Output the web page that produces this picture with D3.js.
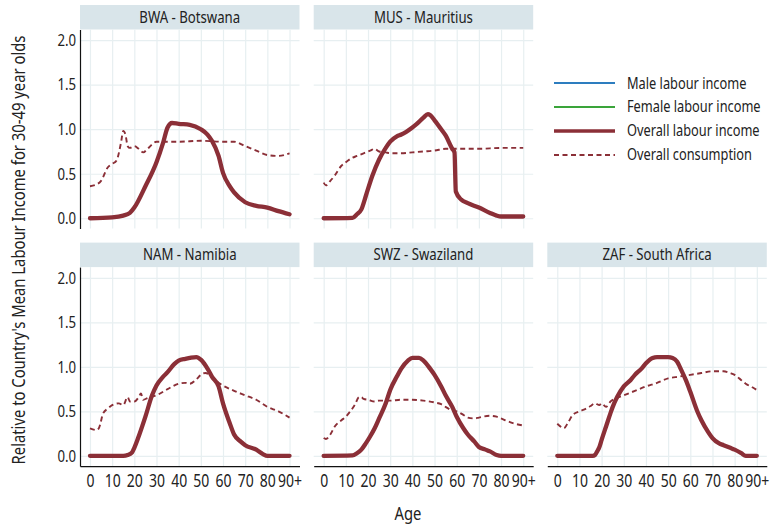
<!DOCTYPE html>
<html>
  <head>
    <meta http-equiv="Content-Type" content="text/html; charset=utf-8">
    <title>Labour income and consumption by age</title>
    <script src="https://cdnjs.cloudflare.com/ajax/libs/d3/7.8.5/d3.min.js"></script>
    <style>
      body { margin: 0; background: #ffffff; }
      text { font-family: "Noto Sans", "Open Sans", sans-serif; fill: #222222; }
    </style>
  </head>
  <body>
    <div id="chart_area"></div>
<script>

// ---- data: [age, value relative to mean 30-49 labour income] ----
var countries = ["BWA - Botswana", "MUS - Mauritius", "NAM - Namibia", "SWZ - Swaziland", "ZAF - South Africa"];

var bwaIncome = [[0,0],[10,0.01],[15,0.03],[18,0.06],[20,0.12],[25,0.36],[30,0.63],[33,0.85],[35,1.02],[37,1.07],[40,1.06],
  [45,1.05],[50,1.0],[53,0.94],[55,0.87],[58,0.70],[60,0.51],[63,0.36],[65,0.29],[70,0.18],[75,0.14],[80,0.12],[85,0.08],[90,0.045]];
var bwaConsumption = [[0,0.36],[3,0.38],[5,0.42],[8,0.57],[10,0.61],[12,0.65],[14,0.85],[15,0.98],[16,0.94],[17,0.81],[18,0.79],
  [20,0.81],[22,0.78],[24,0.74],[26,0.78],[28,0.83],[30,0.86],[40,0.86],[50,0.87],[60,0.86],[65,0.86],[70,0.81],[75,0.76],
  [80,0.71],[85,0.70],[90,0.73]];

var musIncome = [[0,0],[13,0.005],[15,0.045],[17,0.10],[19,0.25],[20,0.33],[22,0.48],[25,0.66],[28,0.79],[30,0.86],[33,0.92],
  [35,0.94],[40,1.02],[42,1.06],[45,1.13],[47,1.17],[48,1.16],[50,1.10],[53,1.0],[55,0.93],[58,0.78],[59,0.74],[59.6,0.30],
  [62,0.21],[65,0.17],[70,0.12],[75,0.06],[78,0.03],[80,0.02],[90,0.02]];
var musConsumption = [[0,0.40],[1,0.37],[3,0.42],[5,0.48],[8,0.59],[10,0.63],[13,0.68],[15,0.70],[18,0.73],[21,0.76],[23,0.78],
  [25,0.75],[28,0.74],[30,0.73],[35,0.73],[40,0.74],[45,0.75],[50,0.76],[55,0.78],[60,0.78],[70,0.78],[80,0.79],[90,0.79]];

var namIncome = [[0,0],[15,0],[17,0.01],[19,0.04],[20,0.09],[22,0.22],[25,0.44],[28,0.68],[30,0.79],[33,0.89],[35,0.94],
  [38,1.03],[40,1.07],[43,1.09],[45,1.10],[48,1.11],[50,1.08],[53,0.98],[55,0.89],[58,0.78],[60,0.59],[63,0.37],[65,0.24],
  [68,0.16],[70,0.12],[75,0.07],[78,0.02],[80,0],[90,0]];
var namConsumption = [[0,0.31],[3,0.29],[4,0.31],[6,0.48],[8,0.53],[10,0.57],[13,0.59],[15,0.57],[17,0.66],[18,0.61],[20,0.61],
  [22,0.66],[23,0.70],[24,0.63],[26,0.65],[30,0.68],[35,0.75],[40,0.81],[43,0.82],[45,0.81],[48,0.86],[50,0.91],[52,0.93],
  [55,0.89],[58,0.82],[60,0.79],[65,0.73],[70,0.68],[75,0.63],[80,0.55],[85,0.50],[90,0.43]];

var swzIncome = [[0,0],[13,0.005],[15,0.03],[17,0.07],[19,0.14],[21,0.22],[23,0.31],[25,0.42],[28,0.59],[30,0.74],[33,0.89],
  [35,0.98],[38,1.07],[40,1.10],[43,1.10],[45,1.07],[48,0.98],[50,0.91],[53,0.78],[55,0.68],[58,0.55],[60,0.44],[63,0.31],
  [65,0.24],[68,0.16],[70,0.10],[73,0.07],[75,0.05],[78,0.01],[80,0],[90,0]];
var swzConsumption = [[0,0.20],[1,0.19],[3,0.24],[5,0.33],[8,0.40],[10,0.44],[12,0.50],[14,0.57],[16,0.66],[17,0.66],[18,0.64],
  [20,0.63],[23,0.61],[25,0.62],[30,0.62],[35,0.63],[40,0.63],[45,0.62],[50,0.60],[53,0.58],[55,0.55],[58,0.51],[60,0.50],
  [63,0.46],[65,0.43],[68,0.42],[70,0.43],[75,0.45],[78,0.44],[80,0.42],[85,0.37],[90,0.34]];

var zafIncome = [[0,0],[16,0],[17,0.01],[18,0.05],[19,0.10],[20,0.18],[22,0.33],[24,0.48],[25,0.55],[27,0.66],[30,0.78],
  [33,0.85],[35,0.91],[38,0.98],[40,1.04],[43,1.10],[45,1.11],[50,1.11],[52,1.10],[54,1.06],[56,0.96],[58,0.85],[60,0.72],
  [63,0.51],[65,0.40],[68,0.27],[70,0.20],[73,0.14],[75,0.12],[78,0.09],[80,0.07],[83,0.03],[85,0],[90,0]];
var zafConsumption = [[0,0.36],[2,0.32],[3,0.31],[5,0.38],[7,0.46],[10,0.50],[13,0.53],[15,0.56],[17,0.59],[19,0.57],[20,0.59],
  [22,0.55],[24,0.61],[27,0.65],[30,0.68],[35,0.73],[40,0.78],[45,0.82],[50,0.87],[55,0.89],[60,0.91],[65,0.93],[70,0.95],
  [75,0.95],[78,0.93],[80,0.91],[83,0.85],[85,0.81],[88,0.77],[90,0.74]];

var incomeSeries = [bwaIncome, musIncome, namIncome, swzIncome, zafIncome];
var consumptionSeries = [bwaConsumption, musConsumption, namConsumption, swzConsumption, zafConsumption];

var ageTicks = [0, 10, 20, 30, 40, 50, 60, 70, 80, 90];
var ageTickLabels = ["0", "10", "20", "30", "40", "50", "60", "70", "80", "90+"];
var valueTicks = [0, 0.5, 1, 1.5, 2];

var legendLabels = ["Male labour income", "Female labour income", "Overall labour income", "Overall consumption"];
var legendColors = ["#2d7dbf", "#3aa43a", "#8b2f37", "#8b2f37"];

// ---- layout ----
var width = 770, height = 526;
var panelW = 219.5, panelH = 199, stripH = 24.5;
var colX = [80, 313.7, 547.3];
var rowY = [5, 242.6];   // top of strips
var lineColor = "#8b2f37";
var gridColor = "#e7eff1";
var squeeze = 0.8;       // no condensed font installed, so narrow the glyphs

var svg = d3.select("#chart_area")
  .append("svg")
    .attr("width", width)
    .attr("height", height);

// scales shared by all panels (ggplot style expansion)
var x = d3.scaleLinear().domain([-4.5, 94.5]).range([0, panelW]);
var y = d3.scaleLinear().domain([-0.115, 2.12]).range([panelH, 0]);

var seriesLine = d3.line()
  .x(function(d) { return x(d[0]); })
  .y(function(d) { return y(d[1]); })
  .curve(d3.curveMonotoneX);

countries.forEach(function(name, i) {
  // panels go BWA, MUS, (legend), NAM, SWZ, ZAF
  var col = i < 2 ? i : i - 2;
  var row = i < 2 ? 0 : 1;
  var g = svg.append("g")
    .attr("transform", "translate(" + colX[col] + "," + rowY[row] + ")");

  // strip
  g.append("rect")
    .attr("width", panelW)
    .attr("height", stripH)
    .attr("fill", "#d9e5ea");
  g.append("text")
    .attr("x", panelW / 2)
    .attr("y", stripH / 2 + 5.5)
    .attr("text-anchor", "middle")
    .attr("font-size", 16.5)
    .text(name);

  var p = g.append("g").attr("transform", "translate(0," + stripH + ")");

  // grid
  p.append("g").call(d3.axisBottom(x).tickValues(ageTicks).tickSize(panelH).tickFormat(""))
    .call(function(a) { a.select(".domain").remove(); a.selectAll("line").attr("stroke", gridColor).attr("stroke-width", 1.2); });
  p.append("g").call(d3.axisRight(y).tickValues(valueTicks).tickSize(panelW).tickFormat(""))
    .call(function(a) { a.select(".domain").remove(); a.selectAll("line").attr("stroke", gridColor).attr("stroke-width", 1.2); });

  // consumption (dashed) then labour income (thick)
  p.append("path")
    .datum(consumptionSeries[i])
    .attr("fill", "none")
    .attr("stroke", lineColor)
    .attr("stroke-width", 1.9)
    .attr("stroke-dasharray", "5,3.5")
    .attr("d", seriesLine);
  p.append("path")
    .datum(incomeSeries[i])
    .attr("fill", "none")
    .attr("stroke", lineColor)
    .attr("stroke-width", 4.3)
    .attr("stroke-linejoin", "round")
    .attr("stroke-linecap", "round")
    .attr("d", seriesLine);

  // left axis on first column only
  if (col == 0) {
    var yAxis = p.append("g")
      .call(d3.axisLeft(y).tickValues(valueTicks).tickSize(0).tickPadding(4).tickFormat(d3.format(".1f")));
    yAxis.select(".domain").attr("stroke", "#111111").attr("stroke-width", 1.2);
    yAxis.selectAll("text").attr("font-size", 16.5).attr("font-family", null).attr("fill", "#222222");
  }
  // bottom axis on bottom row only
  if (row == 1) {
    var xAxis = p.append("g")
      .attr("transform", "translate(0," + panelH + ")")
      .call(d3.axisBottom(x).tickValues(ageTicks).tickSize(0).tickPadding(8)
        .tickFormat(function(d, k) { return ageTickLabels[k]; }));
    xAxis.select(".domain").attr("stroke", "#111111").attr("stroke-width", 1.2);
    xAxis.selectAll("text").attr("font-size", 17.5).attr("font-family", null).attr("fill", "#222222");
  }
});

// ---- legend ----
var legend = svg.append("g").attr("transform", "translate(554,83)");
legendLabels.forEach(function(label, k) {
  var ly = k * 24;
  legend.append("line")
    .attr("x1", 0).attr("x2", 61)
    .attr("y1", ly).attr("y2", ly)
    .attr("stroke", legendColors[k])
    .attr("stroke-width", k == 2 ? 3.5 : (k == 3 ? 1.9 : 2))
    .attr("stroke-dasharray", k == 3 ? "5,3.5" : null);
  legend.append("text")
    .attr("x", 73)
    .attr("y", ly + 5.5)
    .attr("font-size", 16)
    .text(label);
});

// ---- axis titles ----
svg.append("text")
  .attr("x", 408)
  .attr("y", 520)
  .attr("text-anchor", "middle")
  .attr("font-size", 18.5)
  .text("Age");

svg.append("text")
  .attr("transform", "translate(25,250) rotate(-90)")
  .attr("text-anchor", "middle")
  .attr("font-size", 18.5)
  .text("Relative to Country's Mean Labour Income for 30-49 year olds");

// condense every label horizontally around its anchor point
svg.selectAll("text").each(function() {
  var t = d3.select(this);
  var tx = +t.attr("x") || 0;
  var base = t.attr("transform") || "";
  t.attr("transform", base + " translate(" + tx + ",0) scale(" + squeeze + ",1) translate(" + (-tx) + ",0)");
});

</script>
  </body>
</html>
